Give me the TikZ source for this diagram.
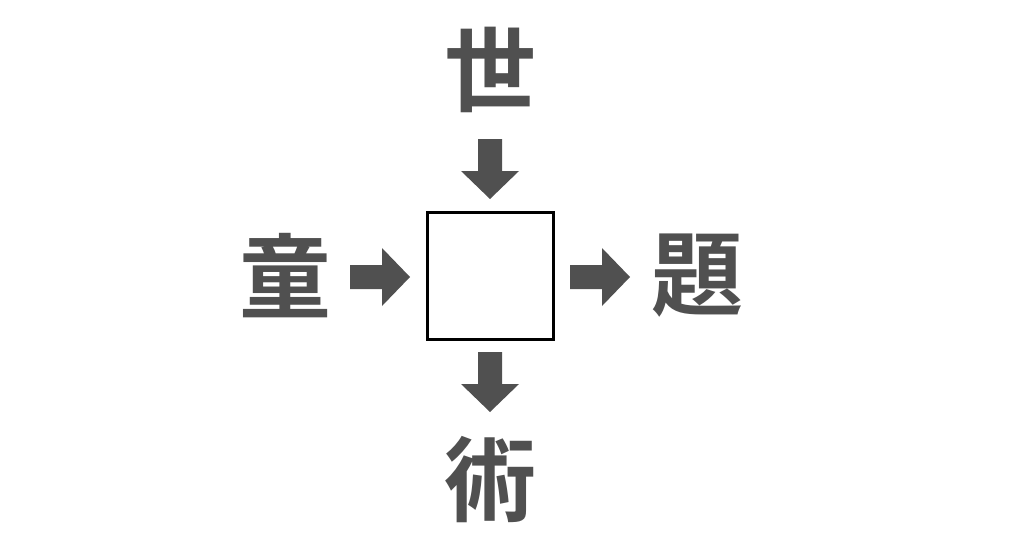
\documentclass[tikz,border=0pt]{standalone}
\usepackage{fontspec}
\newfontfamily\cjk{Noto Sans CJK JP Bold}
\definecolor{g}{HTML}{505050}
\begin{document}
\begin{tikzpicture}[x=1pt,y=-1pt,
  ch/.style={font=\cjk\fontsize{92}{92}\selectfont,text=g,inner sep=0pt},
  blk/.pic={\fill[g] (-30,-12)--(2,-12)--(2,-29)--(30,0)--(2,29)--(2,12)--(-30,12)--cycle;}]
\useasboundingbox (0,0) rectangle (1024,538);
\node[draw,line width=3pt,minimum width=126pt,minimum height=127pt,inner sep=0pt] (box) at (490,276) {};
\node[ch] (t) at (490,70) {世};
\node[ch] (l) at (285,276) {童};
\node[ch] (r) at (697,276) {題};
\node[ch] (b) at (490,480) {術};
\pic[rotate=-90] at (490,169) {blk};
\pic at (380,277) {blk};
\pic at (600,277) {blk};
\pic[rotate=-90] at (490,382) {blk};
\end{tikzpicture}
\end{document}
